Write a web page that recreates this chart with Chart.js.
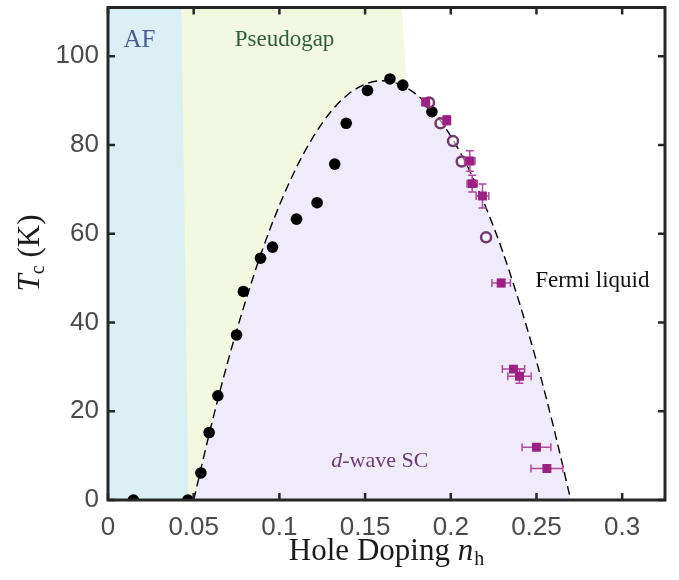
<!DOCTYPE html>
<html>
<head>
<meta charset="utf-8">
<script src="https://cdn.jsdelivr.net/npm/chart.js@4/dist/chart.umd.min.js"></script>
<style>
  html, body { margin: 0; padding: 0; background: #ffffff; }
  #wrap { width: 679px; height: 580px; }
</style>
</head>
<body>
<div id="wrap"><canvas id="c" width="679" height="580"></canvas></div>
<script>
// ---- Data ----
// Black filled circles
const nhBlack = [0.0148, 0.0466, 0.0542, 0.0590, 0.0641, 0.0750, 0.0790, 0.0890, 0.0960, 0.1100, 0.1220, 0.1323, 0.1390, 0.1514, 0.1645, 0.1720, 0.1890];
const tcBlack = [0, 0, 6.1, 15.2, 23.5, 37.2, 47, 54.5, 57, 63.3, 67, 75.7, 84.9, 92.3, 94.9, 93.5, 87.5];
// Open circles
const nhOpen = [0.1873, 0.1940, 0.2013, 0.2064, 0.2206];
const tcOpen = [89.6, 84.9, 80.9, 76.3, 59.2];
// Squares with error bars
const nhSq    = [0.1854, 0.1977, 0.2111, 0.2125, 0.2185, 0.2294, 0.2366, 0.2401, 0.2500, 0.2561];
const tcSq    = [89.7, 85.6, 76.4, 71.3, 68.5, 48.9, 29.5, 27.9, 11.9, 7.1];
const nhSqErr = [0.0020, 0.0020, 0.0030, 0.0030, 0.0037, 0.0054, 0.0065, 0.0068, 0.0084, 0.0093];
const tcSqErr = [0.8, 1.0, 2.3, 1.9, 2.7, 0.8, 0.6, 1.6, 0.6, 0.6];
// Dashed dome curve
const nhDome = [0.05, 0.06, 0.07, 0.08, 0.09, 0.10, 0.11, 0.12, 0.13, 0.14, 0.15, 0.16, 0.17, 0.18, 0.19, 0.20, 0.21, 0.22, 0.23, 0.24, 0.25, 0.26, 0.27];
const tcDome = [0, 16.4, 31.3, 44.5, 56.3, 66.4, 75.0, 82.0, 87.5, 91.4, 93.7, 94.5, 93.7, 91.4, 87.5, 82.0, 75.0, 66.4, 56.3, 44.5, 31.3, 16.4, 0];
// Phase region boundaries
const nhAF = [0, 0.0429, 0.0470];
const tcAF = [111, 111, 0];
const nhPG = [0.0429, 0.1715, 0.1750, 0.1750];
const tcPG = [111, 111, 88, 0];
// Tick values
const xTicks = [0, 0.05, 0.1, 0.15, 0.2, 0.25, 0.3];
const yTicks = [0, 20, 40, 60, 80, 100];
const xMax = 0.325, yMax = 111;

const pts = (xs, ys) => xs.map((x, i) => ({ x: x, y: ys[i] }));

const FRAME = '#262626';
const SQ_COL = '#9c1f83';
const SQ_ERR = '#b0489c';
const OPEN_COL = '#6f3a6c';
const SERIF = '"Liberation Serif", "Times New Roman", serif';

const errPlugin = {
  id: 'errbars',
  beforeDatasetDraw(chart, args) {
    if (chart.data.datasets[args.index].label !== 'squares') return;
    const xs = chart.scales.x, ys = chart.scales.y, ctx = chart.ctx;
    ctx.save();
    ctx.strokeStyle = SQ_ERR;
    ctx.lineWidth = 1.5;
    const cap = 4;
    nhSq.forEach((x, i) => {
      const px = xs.getPixelForValue(x), py = ys.getPixelForValue(tcSq[i]);
      const x0 = xs.getPixelForValue(x - nhSqErr[i]), x1 = xs.getPixelForValue(x + nhSqErr[i]);
      const y0 = ys.getPixelForValue(tcSq[i] - tcSqErr[i]), y1 = ys.getPixelForValue(tcSq[i] + tcSqErr[i]);
      ctx.beginPath();
      ctx.moveTo(x0, py); ctx.lineTo(x1, py);
      ctx.moveTo(x0, py - cap); ctx.lineTo(x0, py + cap);
      ctx.moveTo(x1, py - cap); ctx.lineTo(x1, py + cap);
      ctx.moveTo(px, y0); ctx.lineTo(px, y1);
      ctx.moveTo(px - cap, y0); ctx.lineTo(px + cap, y0);
      ctx.moveTo(px - cap, y1); ctx.lineTo(px + cap, y1);
      ctx.stroke();
    });
    ctx.restore();
  }
};

const framePlugin = {
  id: 'frame',
  afterDraw(chart) {
    const ctx = chart.ctx, a = chart.chartArea, xs = chart.scales.x, ys = chart.scales.y;
    ctx.save();
    // region labels
    ctx.textAlign = 'center';
    ctx.textBaseline = 'middle';
    ctx.font = '25px ' + SERIF;
    ctx.fillStyle = '#4a5f96';
    ctx.fillText('AF', xs.getPixelForValue(0.0183), ys.getPixelForValue(103.6));
    ctx.font = '23px ' + SERIF;
    ctx.fillStyle = '#2f5e3c';
    ctx.fillText('Pseudogap', xs.getPixelForValue(0.103), ys.getPixelForValue(103.6));
    ctx.fillStyle = '#111111';
    ctx.fillText('Fermi liquid', xs.getPixelForValue(0.2826), ys.getPixelForValue(49.3));
    // d-wave SC with italic d
    ctx.fillStyle = '#6a3c74';
    const cx = xs.getPixelForValue(0.1586), cy = ys.getPixelForValue(8.7);
    const fI = 'italic 22px ' + SERIF, fR = '22px ' + SERIF;
    ctx.font = fI; const wd = ctx.measureText('d').width;
    ctx.font = fR; const wr = ctx.measureText('-wave SC').width;
    let sx = cx - (wd + wr) / 2;
    ctx.textAlign = 'left';
    ctx.font = fI; ctx.fillText('d', sx, cy);
    ctx.font = fR; ctx.fillText('-wave SC', sx + wd, cy);

    // ticks (inward, all four sides)
    ctx.strokeStyle = FRAME;
    ctx.lineWidth = 2.5;
    const tl = 7;
    ctx.beginPath();
    xTicks.forEach(v => {
      const p = xs.getPixelForValue(v);
      ctx.moveTo(p, a.bottom); ctx.lineTo(p, a.bottom - tl);
      ctx.moveTo(p, a.top); ctx.lineTo(p, a.top + tl);
    });
    yTicks.forEach(v => {
      const p = ys.getPixelForValue(v);
      ctx.moveTo(a.left, p); ctx.lineTo(a.left + tl, p);
      ctx.moveTo(a.right, p); ctx.lineTo(a.right - tl, p);
    });
    ctx.stroke();
    // frame
    ctx.lineWidth = 3;
    ctx.strokeRect(a.left, a.top, a.right - a.left, a.bottom - a.top);

    // axis titles
    ctx.fillStyle = '#1a1a1a';
    ctx.textBaseline = 'alphabetic';
    // x title: Hole Doping n_h
    const f1 = '31px ' + SERIF, f1i = 'italic 31px ' + SERIF, f1s = '20px ' + SERIF;
    ctx.font = f1; const w1 = ctx.measureText('Hole Doping ').width;
    ctx.font = f1i; const w2 = ctx.measureText('n').width;
    ctx.font = f1s; const w3 = ctx.measureText('h').width;
    const xc = 386;
    let x0 = xc - (w1 + w2 + w3) / 2;
    const by = 560;
    ctx.textAlign = 'left';
    ctx.font = f1; ctx.fillText('Hole Doping ', x0, by);
    ctx.font = f1i; ctx.fillText('n', x0 + w1, by);
    ctx.font = f1s; ctx.fillText('h', x0 + w1 + w2 + 1, by + 5);
    // y title: T_c (K)
    ctx.save();
    ctx.translate(39, 253);
    ctx.rotate(-Math.PI / 2);
    const g1 = 'italic 31px ' + SERIF, g2 = '20px ' + SERIF, g3 = '31px ' + SERIF;
    ctx.font = g1; const v1 = ctx.measureText('T').width;
    ctx.font = g2; const v2 = ctx.measureText('c').width;
    ctx.font = g3; const v3 = ctx.measureText(' (K)').width;
    let y0 = -(v1 + v2 + v3) / 2;
    ctx.font = g1; ctx.fillText('T', y0, 0);
    ctx.font = g2; ctx.fillText('c', y0 + v1, 5);
    ctx.font = g3; ctx.fillText(' (K)', y0 + v1 + v2, 0);
    ctx.restore();
    ctx.restore();
  }
};

const zeroPad = s => { s.paddingTop = 0; s.paddingBottom = 0; s.paddingLeft = 0; s.paddingRight = 0; };

const chart = new Chart(document.getElementById('c'), {
  type: 'scatter',
  data: {
    datasets: [
      { label: 'squares', data: pts(nhSq, tcSq), pointStyle: 'rect', pointRadius: 6.3,
        backgroundColor: SQ_COL, borderColor: SQ_COL, borderWidth: 0, order: 0 },
      { label: 'open', data: pts(nhOpen, tcOpen), pointStyle: 'circle', pointRadius: 5,
        backgroundColor: 'rgba(255,255,255,0.55)', borderColor: OPEN_COL, borderWidth: 2.5, order: 1 },
      { label: 'black', data: pts(nhBlack, tcBlack), pointStyle: 'circle', pointRadius: 5.8,
        backgroundColor: '#000000', borderColor: '#000000', borderWidth: 0, order: 2 },
      { label: 'dome', type: 'line', data: pts(nhDome, tcDome), showLine: true, pointRadius: 0,
        borderColor: '#000000', borderWidth: 1.4, borderDash: [9, 5], cubicInterpolationMode: 'monotone',
        fill: 'origin', backgroundColor: '#efebfa', order: 3 },
      { label: 'af', type: 'line', data: pts(nhAF, tcAF), showLine: true, pointRadius: 0,
        borderWidth: 0, borderColor: 'rgba(0,0,0,0)', fill: 'origin', backgroundColor: '#dbf0f5', tension: 0, order: 4 },
      { label: 'pg', type: 'line', data: pts(nhPG, tcPG), showLine: true, pointRadius: 0,
        borderWidth: 0, borderColor: 'rgba(0,0,0,0)', fill: 'origin', backgroundColor: '#f2f9e0', tension: 0, order: 5 }
    ]
  },
  options: {
    responsive: false,
    animation: false,
    devicePixelRatio: 1,
    layout: { padding: { left: 0, right: 14, top: 6, bottom: 0 } },
    plugins: { legend: { display: false }, tooltip: { enabled: false } },
    scales: {
      x: {
        type: 'linear', min: 0, max: xMax,
        grid: { display: false, drawTicks: false },
        border: { display: false },
        afterBuildTicks: s => { s.ticks = xTicks.map(v => ({ value: v })); },
        afterFit: s => { s.height = 80; zeroPad(s); },
        ticks: {
          padding: 12,
          color: '#4a4a4a',
          font: { family: '"Liberation Sans", Arial, sans-serif', size: 26 },
          callback: v => String(v)
        }
      },
      y: {
        type: 'linear', min: 0, max: yMax,
        grid: { display: false, drawTicks: false },
        border: { display: false },
        afterBuildTicks: s => { s.ticks = yTicks.map(v => ({ value: v })); },
        afterFit: s => { s.width = 108; zeroPad(s); },
        ticks: {
          padding: 9,
          color: '#4a4a4a',
          font: { family: '"Liberation Sans", Arial, sans-serif', size: 26 },
          callback: v => String(v)
        }
      }
    }
  },
  plugins: [errPlugin, framePlugin]
});
</script>
</body>
</html>
